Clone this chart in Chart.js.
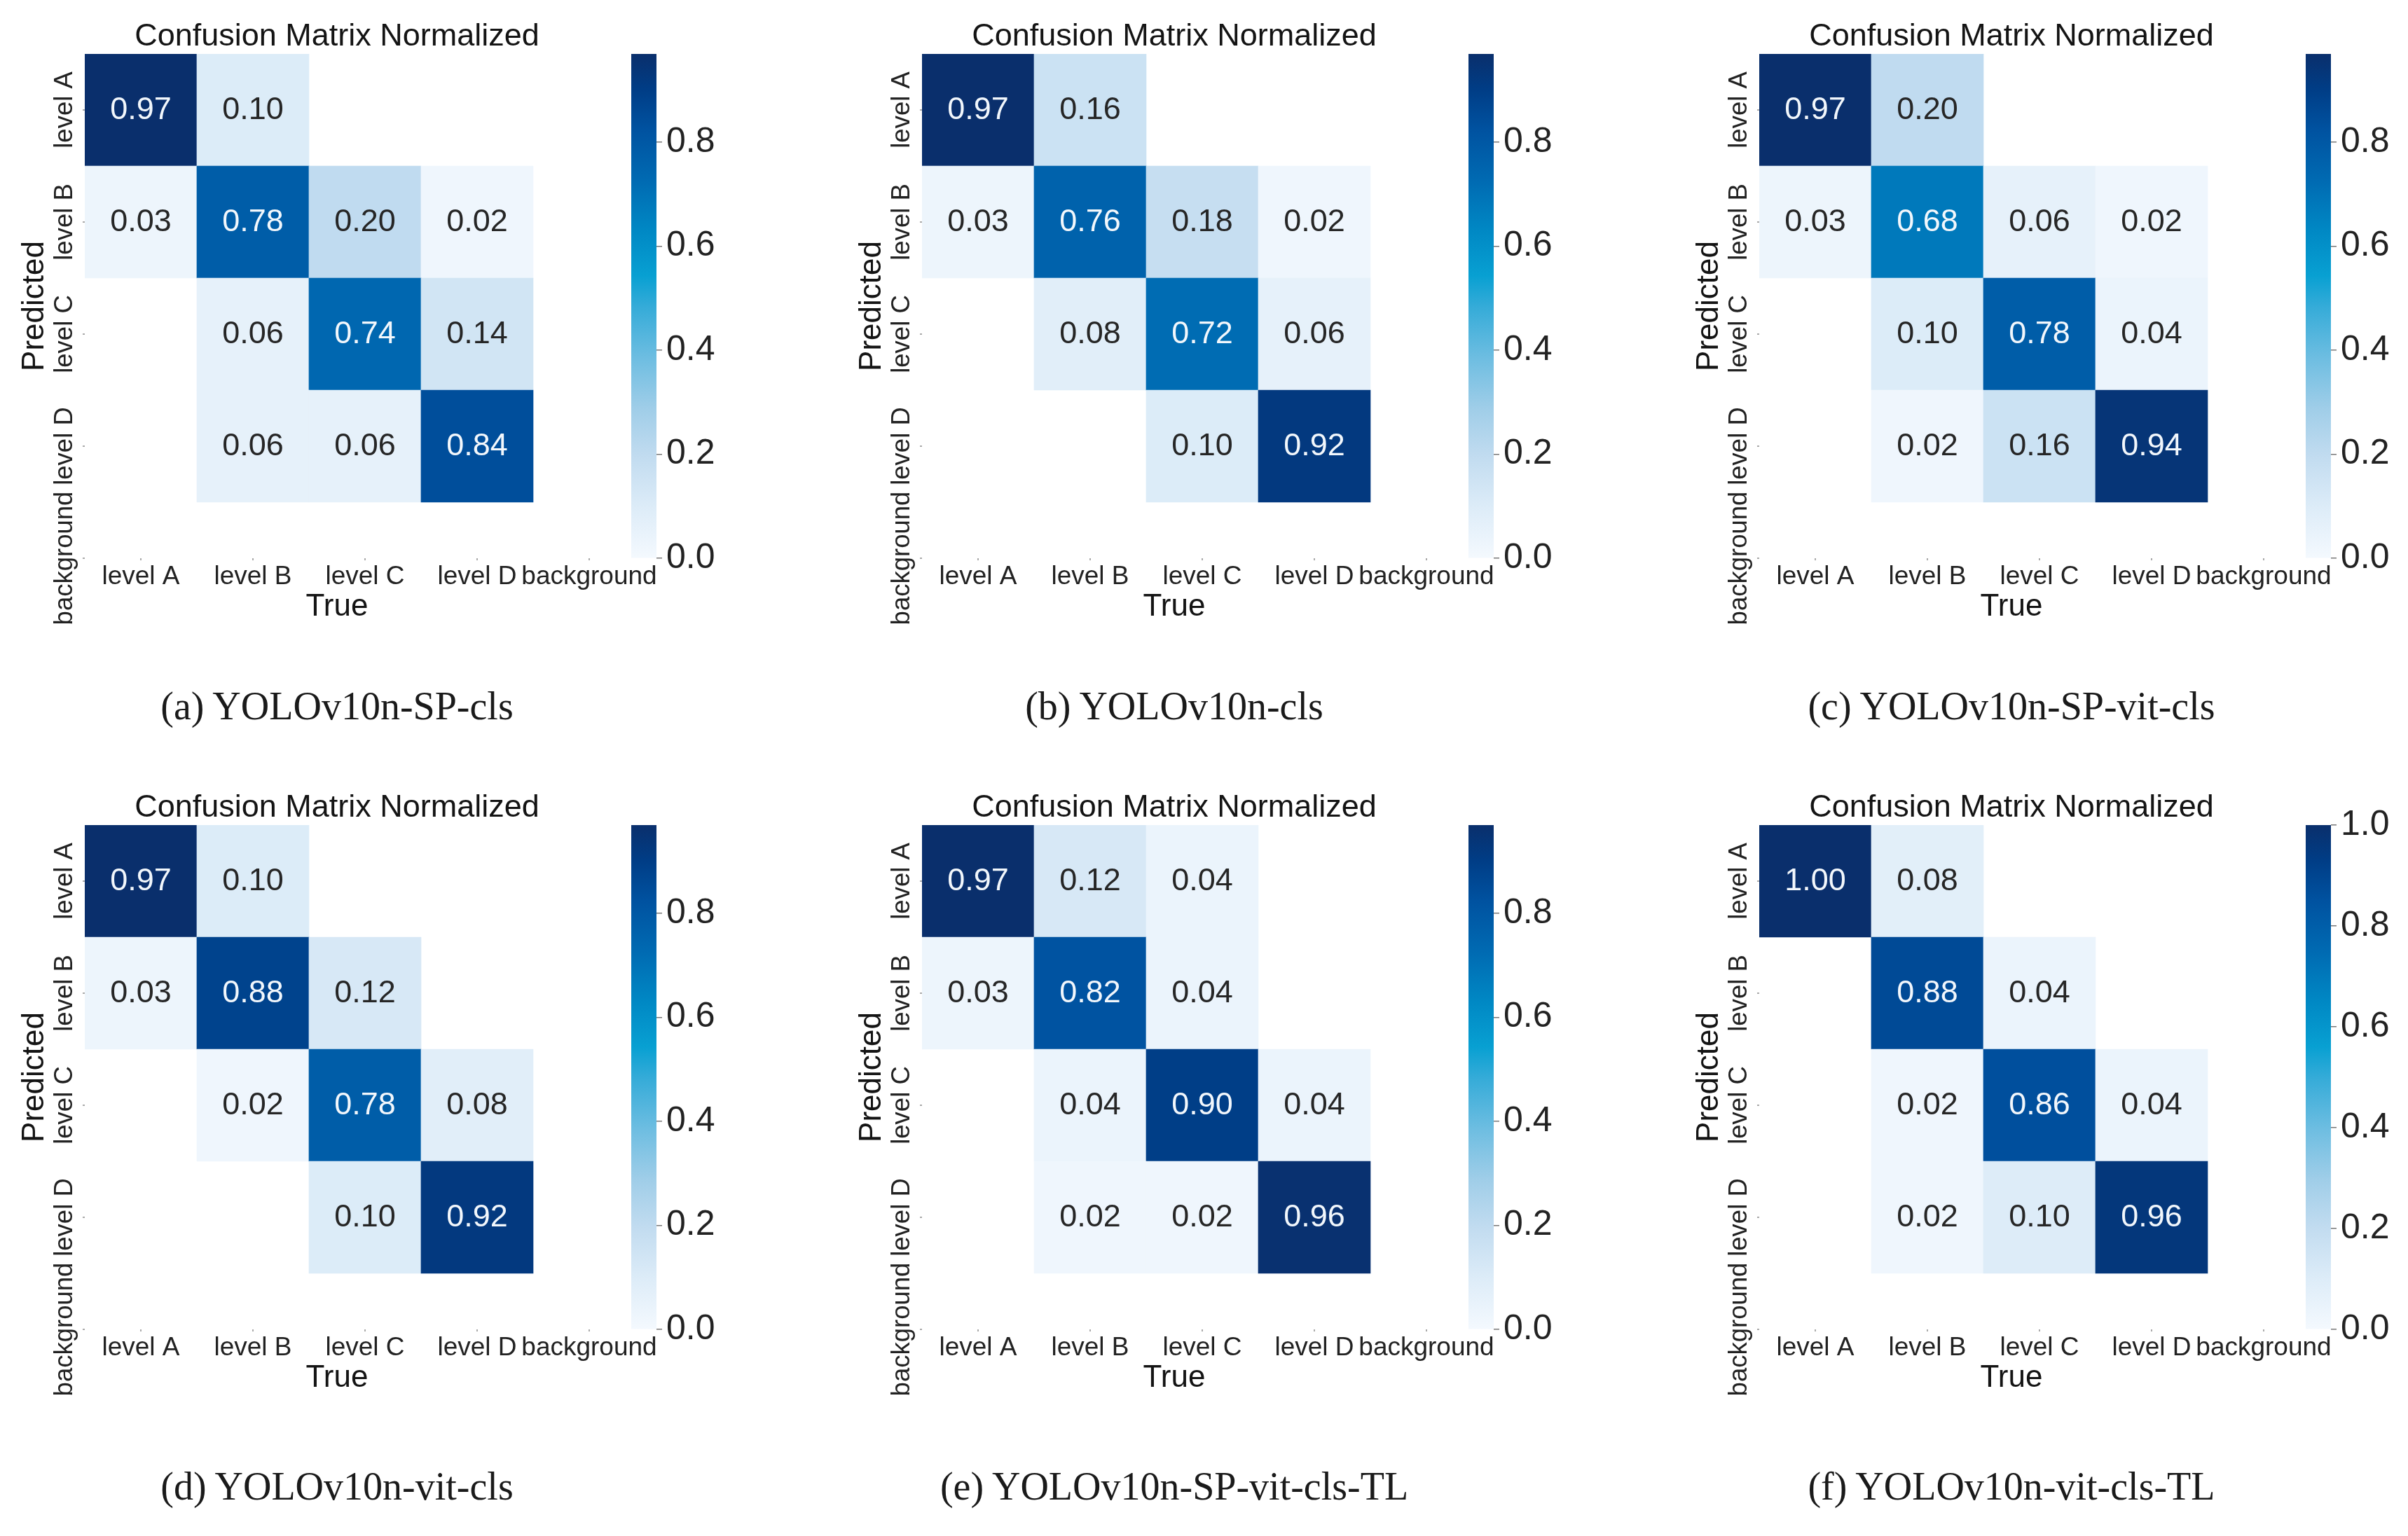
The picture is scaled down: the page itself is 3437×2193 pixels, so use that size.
<!DOCTYPE html>
<html>
<head>
<meta charset="utf-8">
<script src="https://cdn.jsdelivr.net/npm/chart.js@4.4.1/dist/chart.umd.min.js"></script>
<style>
  html, body { margin: 0; padding: 0; background: #fff; }
  body { width: 3437px; height: 2193px; position: relative; overflow: hidden; }
  canvas { position: absolute; }
  .caption {
    position: absolute; width: 962px; text-align: center;
    font-family: 'Liberation Serif', 'Times New Roman', serif;
    font-size: 56px; line-height: 66px; color: #1a1a1a; white-space: nowrap;
  }
</style>
</head>
<body>
<script>
const classes = ['level A', 'level B', 'level C', 'level D', 'background'];

// rows = predicted class, columns = true class (level A..D); null = blank cell
const cmSPcls = [
  [0.97, 0.10, null, null],
  [0.03, 0.78, 0.20, 0.02],
  [null, 0.06, 0.74, 0.14],
  [null, 0.06, 0.06, 0.84]
];
const cmCls = [
  [0.97, 0.16, null, null],
  [0.03, 0.76, 0.18, 0.02],
  [null, 0.08, 0.72, 0.06],
  [null, null, 0.10, 0.92]
];
const cmSPVitCls = [
  [0.97, 0.20, null, null],
  [0.03, 0.68, 0.06, 0.02],
  [null, 0.10, 0.78, 0.04],
  [null, 0.02, 0.16, 0.94]
];
const cmVitCls = [
  [0.97, 0.10, null, null],
  [0.03, 0.88, 0.12, null],
  [null, 0.02, 0.78, 0.08],
  [null, null, 0.10, 0.92]
];
const cmSPVitClsTL = [
  [0.97, 0.12, 0.04, null],
  [0.03, 0.82, 0.04, null],
  [null, 0.04, 0.90, 0.04],
  [null, 0.02, 0.02, 0.96]
];
const cmVitClsTL = [
  [1.00, 0.08, null, null],
  [null, 0.88, 0.04, null],
  [null, 0.02, 0.86, 0.04],
  [null, 0.02, 0.10, 0.96]
];

const matrices = [cmSPcls, cmCls, cmSPVitCls, cmVitCls, cmSPVitClsTL, cmVitClsTL];
const captions = [
  '(a) YOLOv10n-SP-cls', '(b) YOLOv10n-cls', '(c) YOLOv10n-SP-vit-cls',
  '(d) YOLOv10n-vit-cls', '(e) YOLOv10n-SP-vit-cls-TL', '(f) YOLOv10n-vit-cls-TL'
];

// layout
const colX = [0, 1195, 2390];
const rowY = [0, 1101];
const captionY = [1008, 2122];
const SANS = "'Liberation Sans', Arial, sans-serif";

// blue colour map (looks like a saturated "Blues")
const cmapStops = [
  [0.00, '#f4f9fe'], [0.10, '#ddecf8'], [0.20, '#c2dcf0'], [0.30, '#9ecde8'],
  [0.40, '#6cbde1'], [0.50, '#34abd8'], [0.56, '#08a0d2'], [0.65, '#0088c4'],
  [0.75, '#006ab2'], [0.85, '#0052a0'], [0.93, '#003d86'], [1.00, '#0a2f6c']
];
function rgb(h) { return [1, 3, 5].map(i => parseInt(h.substr(i, 2), 16)); }
function cmap(t) {
  t = Math.max(0, Math.min(1, t));
  for (let i = 1; i < cmapStops.length; i++) {
    const [t1, c1] = cmapStops[i];
    if (t <= t1) {
      const [t0, c0] = cmapStops[i - 1];
      const f = (t - t0) / (t1 - t0);
      const a = rgb(c0), b = rgb(c1);
      return 'rgb(' + a.map((v, k) => Math.round(v + (b[k] - v) * f)).join(',') + ')';
    }
  }
  return cmapStops[cmapStops.length - 1][1];
}

// value text in every cell
const cellText = {
  id: 'cellText',
  afterDatasetsDraw(chart) {
    const c = chart.ctx;
    const vmax = chart.options.vmax;
    c.save();
    c.font = '45px ' + SANS;
    c.textAlign = 'center';
    c.textBaseline = 'middle';
    chart.getDatasetMeta(0).data.forEach((el, i) => {
      const raw = chart.data.datasets[0].data[i];
      const p = el.getProps(['x', 'y', 'base'], true);
      c.fillStyle = raw.v / vmax > 0.5 ? '#f2f7fc' : '#262626';
      c.fillText(raw.v.toFixed(2), p.x, (p.y + p.base) / 2 + 1);
    });
    c.restore();
  }
};

// rotated tick labels on the predicted axis
const yTickText = {
  id: 'yTickText',
  afterDraw(chart) {
    const s = chart.scales.y;
    const c = chart.ctx;
    c.save();
    c.font = '36.5px ' + SANS;
    c.fillStyle = '#222';
    c.textAlign = 'center';
    c.textBaseline = 'middle';
    s.ticks.forEach((t, i) => {
      c.save();
      c.translate(93, s.getPixelForValue(t.value));
      c.rotate(-Math.PI / 2);
      c.fillText(classes[i], 0, 0);
      c.restore();
    });
    c.restore();
  }
};

const centres = classes.map((_, i) => ({ value: i + 0.5 }));

function makeCanvas(x, y, w, h) {
  const cv = document.createElement('canvas');
  cv.width = w; cv.height = h;
  cv.style.left = x + 'px'; cv.style.top = y + 'px';
  document.body.appendChild(cv);
  return cv;
}

matrices.forEach((m, k) => {
  const px = colX[k % 3], py = rowY[Math.floor(k / 3)];
  const vmax = Math.max(...m.flat().filter(v => v != null));
  const cells = [];
  m.forEach((row, r) => row.forEach((v, c) => {
    if (v != null) cells.push({ x: c + 0.5, y: [r, r + 1], v: v });
  }));

  new Chart(makeCanvas(px, py, 950, 900), {
    type: 'bar',
    data: {
      datasets: [{
        data: cells,
        backgroundColor: ctx => cmap(ctx.raw.v / vmax),
        borderWidth: 0,
        barPercentage: 1,
        categoryPercentage: 1
      }]
    },
    options: {
      vmax: vmax,
      responsive: false,
      animation: false,
      devicePixelRatio: 1,
      layout: { padding: { left: 0, right: 109, top: 0, bottom: 0 } },
      plugins: {
        legend: { display: false },
        tooltip: { enabled: false },
        title: {
          display: true, fullSize: false, text: 'Confusion Matrix Normalized', color: '#141414',
          font: { family: SANS, size: 45, weight: 'normal', lineHeight: 1.1 },
          padding: { top: 27.5, bottom: 0 }
        }
      },
      scales: {
        x: {
          type: 'linear', min: 0, max: 4.5, offset: false,
          afterBuildTicks: s => { s.ticks = centres.map(t => ({ ...t })); },
          afterFit: s => { s.height = 103; },
          ticks: {
            autoSkip: false, maxRotation: 0, padding: 5, color: '#222',
            font: { family: SANS, size: 37, lineHeight: 1 },
            callback: (v, i) => classes[i]
          },
          grid: { offset: false, drawOnChartArea: false, tickLength: 3, color: '#aaa', lineWidth: 2 },
          border: { display: false },
          title: {
            display: true, text: 'True', color: '#141414',
            font: { family: SANS, size: 44 }, padding: { top: 0, bottom: 6.6 }
          }
        },
        y: {
          type: 'linear', min: 0, max: 4.5, reverse: true,
          afterBuildTicks: s => { s.ticks = centres.map(t => ({ ...t })); },
          afterFit: s => { s.width = 121; },
          ticks: { display: false },
          grid: { drawOnChartArea: false, tickLength: 3, color: '#aaa', lineWidth: 2 },
          border: { display: false },
          title: {
            display: true, text: 'Predicted', color: '#141414',
            font: { family: SANS, size: 44 }, padding: { top: 23.6, bottom: 0 }
          }
        }
      }
    },
    plugins: [cellText, yTickText]
  });

  // colour bar
  new Chart(makeCanvas(px + 901, py + 37, 156, 800), {
    type: 'bar',
    data: {
      labels: [''],
      datasets: [{
        data: [[0, vmax]],
        borderWidth: 0,
        barPercentage: 1,
        categoryPercentage: 1,
        backgroundColor: ctx => {
          const chart = ctx.chart;
          if (!chart.chartArea) return null;
          const s = chart.scales.y;
          const g = chart.ctx.createLinearGradient(0, s.getPixelForValue(0), 0, s.getPixelForValue(vmax));
          cmapStops.forEach(([t, col]) => g.addColorStop(t, col));
          return g;
        }
      }]
    },
    options: {
      responsive: false,
      animation: false,
      devicePixelRatio: 1,
      layout: { padding: { top: 40, bottom: 40, left: 0, right: 0 } },
      plugins: { legend: { display: false }, tooltip: { enabled: false } },
      scales: {
        x: { display: false },
        y: {
          position: 'right', min: 0, max: vmax,
          afterFit: s => { s.width = 120; },
          ticks: {
            stepSize: 0.2, includeBounds: false, padding: 6, color: '#222',
            font: { family: SANS, size: 50 },
            callback: v => v.toFixed(1)
          },
          grid: { drawOnChartArea: false, tickLength: 8, color: '#777', lineWidth: 1.5 },
          border: { display: false }
        }
      }
    }
  });

  const cap = document.createElement('div');
  cap.className = 'caption';
  cap.textContent = captions[k];
  cap.style.left = px + 'px';
  cap.style.top = (captionY[Math.floor(k / 3)] - 33) + 'px';
  document.body.appendChild(cap);
});
</script>
</body>
</html>
